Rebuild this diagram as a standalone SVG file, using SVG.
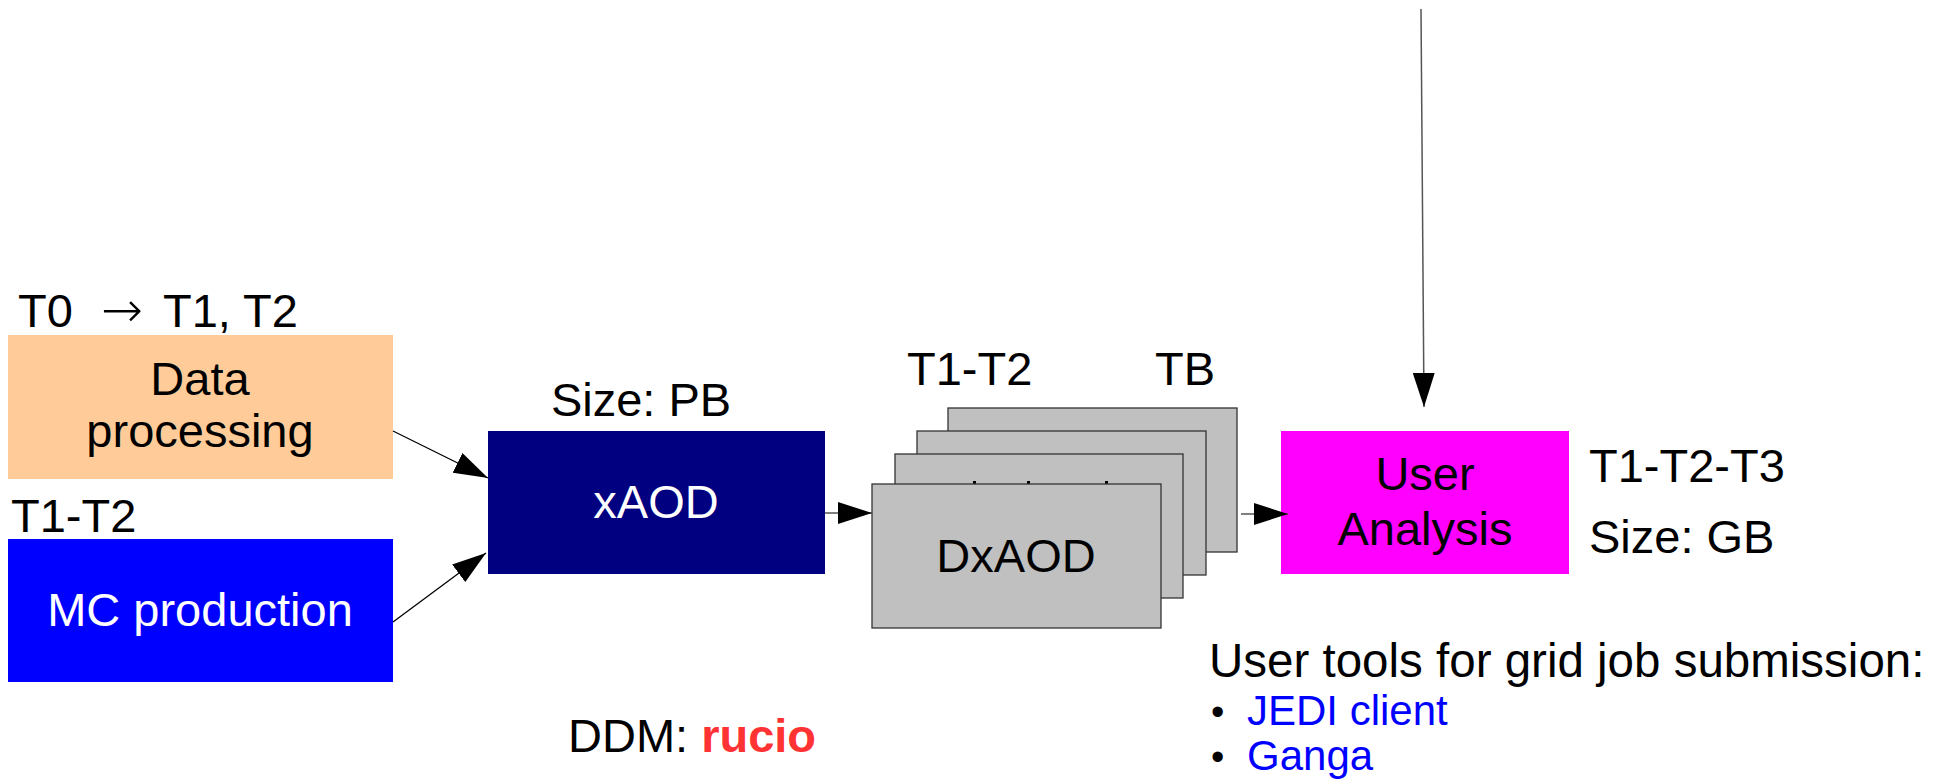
<svg xmlns="http://www.w3.org/2000/svg" width="1942" height="781" viewBox="0 0 1942 781">
<style>
text{font-family:"Liberation Sans",Arial,sans-serif;font-size:47px;fill:#000}
.c{text-anchor:middle}
.w{fill:#fff}
.stack{fill:#c0c0c0;stroke:#333;stroke-width:1.3}
.con{stroke:#000;stroke-width:1.3;fill:none;marker-end:url(#ah)}
.cg{stroke:#555;stroke-width:1.5;fill:none;marker-end:url(#ah)}
.link{fill:#0000ff;font-size:42px}
.bul{font-size:38px}
</style>
<defs>
<marker id="ah" markerUnits="userSpaceOnUse" markerWidth="34" markerHeight="22" viewBox="0 0 34 22" refX="34" refY="11" orient="auto">
<path d="M0,0 L34,11 L0,22 z" fill="#000"/>
</marker>
</defs>
<rect width="1942" height="781" fill="#fff"/>

<g id="data-processing">
<text x="18" y="327">T0</text>
<text x="101" y="327" style="font-family:'DejaVu Sans',sans-serif;font-size:50px;font-weight:lighter">→</text>
<text x="163" y="327">T1, T2</text>
<rect x="8" y="335" width="385" height="144" fill="#ffcc99"/>
<text class="c" x="200" y="395">Data</text>
<text class="c" x="200" y="447">processing</text>
</g>

<g id="mc-production">
<text x="11" y="532">T1-T2</text>
<rect x="8" y="539" width="385" height="143" fill="#0000ff"/>
<text class="c w" x="200" y="626">MC production</text>
</g>

<g id="xaod">
<text class="c" x="641" y="416">Size: PB</text>
<rect x="488" y="431" width="337" height="143" fill="#000080"/>
<text class="c w" x="656" y="518">xAOD</text>
</g>

<g id="dxaod">
<text x="907" y="385">T1-T2</text>
<text x="1155" y="385">TB</text>
<rect class="stack" x="948" y="408" width="289" height="144"/>
<rect class="stack" x="917" y="431" width="289" height="144"/>
<rect class="stack" x="895" y="454" width="288" height="144"/>
<rect x="973" y="481" width="3" height="3" fill="#000"/>
<rect x="1027" y="481" width="3" height="3" fill="#000"/>
<rect x="1105" y="481" width="3" height="3" fill="#000"/>
<rect class="stack" x="872" y="484" width="289" height="144"/>
<text class="c" x="1016" y="572">DxAOD</text>
</g>

<g id="user-analysis">
<rect x="1281" y="431" width="288" height="143" fill="#ff00ff"/>
<text class="c" x="1425" y="490">User</text>
<text class="c" x="1425" y="545">Analysis</text>
<text x="1589" y="482">T1-T2-T3</text>
<text x="1589" y="553">Size: GB</text>
</g>

<g id="user-tools">
<text x="1209" y="677" style="font-size:47.5px">User tools for grid job submission:</text>
<text class="bul" x="1211" y="725">•</text>
<text class="link" x="1247" y="725">JEDI client</text>
<text class="bul" x="1211" y="770">•</text>
<text class="link" x="1247" y="770">Ganga</text>
</g>

<g id="ddm">
<text x="568" y="752">DDM: <tspan style="font-weight:bold;fill:#ff3333">rucio</tspan></text>
</g>

<g id="connectors">
<line class="con" x1="393" y1="431" x2="488" y2="478"/>
<line class="con" x1="393" y1="622" x2="486" y2="553"/>
<line class="cg" x1="825" y1="513" x2="872" y2="513"/>
<line class="cg" x1="1241" y1="514" x2="1288" y2="514"/>
<line class="cg" x1="1421" y1="9" x2="1424" y2="407"/>
</g>
</svg>
